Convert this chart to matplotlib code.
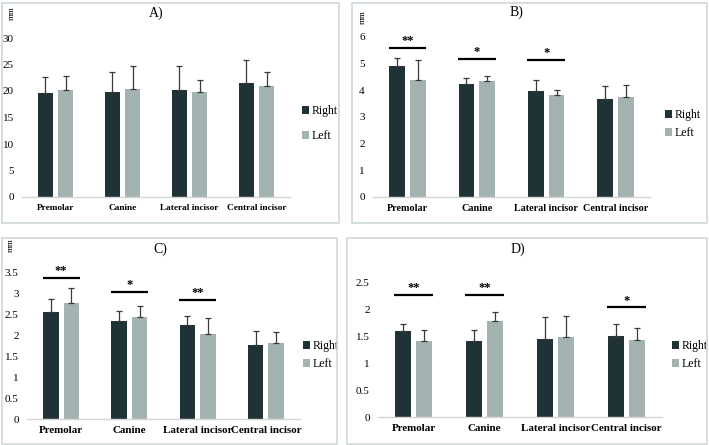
import matplotlib
matplotlib.use("Agg")
import matplotlib.pyplot as plt
from matplotlib.patches import Rectangle
import numpy as np

plt.rcParams['font.family'] = ['Liberation Serif', 'DejaVu Serif']

categories = ["Premolar", "Canine", "Lateral incisor", "Central incisor"]
series = ["Right", "Left"]

A_right = [19.7, 19.75, 20.25, 21.45]
A_right_err = [2.9, 3.75, 4.4, 4.45]
A_left = [20.25, 20.4, 19.8, 20.9]
A_left_err = [2.55, 4.4, 2.3, 2.7]

B_right = [4.9, 4.23, 3.98, 3.66]
B_right_err = [0.3, 0.22, 0.40, 0.52]
B_left = [4.39, 4.35, 3.83, 3.74]
B_left_err = [0.74, 0.20, 0.17, 0.46]

C_right = [2.55, 2.35, 2.26, 1.78]
C_right_err = [0.33, 0.24, 0.20, 0.34]
C_left = [2.78, 2.44, 2.04, 1.81]
C_left_err = [0.36, 0.26, 0.37, 0.28]

D_right = [1.60, 1.42, 1.46, 1.51]
D_right_err = [0.14, 0.195, 0.41, 0.23]
D_left = [1.41, 1.79, 1.50, 1.435]
D_left_err = [0.205, 0.16, 0.38, 0.23]

A_sig = []
B_sig = [("**", 0, 5.58), ("*", 1, 5.17), ("*", 2, 5.13)]
C_sig = [("**", 0, 3.37), ("*", 1, 3.05), ("**", 2, 2.85)]
D_sig = [("**", 0, 2.27), ("**", 1, 2.27), ("*", 3, 2.04)]

A_ticks = [0, 5, 10, 15, 20, 25, 30]
B_ticks = [0, 1, 2, 3, 4, 5, 6]
C_ticks = [0, 0.5, 1, 1.5, 2, 2.5, 3, 3.5]
D_ticks = [0, 0.5, 1, 1.5, 2, 2.5]

DARK = "#1f3336"
LIGHT = "#a3b3b1"
BORDER = "#cfd9d8"

W, H = 709, 445
fig = plt.figure(figsize=(W / 100, H / 100), dpi=100)


def fx(x):
    return x / W


def fy(y):
    return 1 - y / H


def box(x0, y0, x1, y1):
    fig.patches.append(Rectangle((fx(x0), fy(y1)), fx(x1) - fx(x0), fy(y0) - fy(y1),
                                 transform=fig.transFigure, fill=False,
                                 edgecolor=BORDER, linewidth=1.2))


def panel(ax_px, ymax, ticks, right, rerr, left, lerr, sig, title, title_xy,
          mm_xy, leg_xy, leg_space, ticklabels, catfs):
    x0, x1, ytop, ybot = ax_px
    ax = fig.add_axes([fx(x0), fy(ybot), fx(x1) - fx(x0), fy(ytop) - fy(ybot)])
    x = np.arange(len(categories))
    off, w = 0.15, 0.225
    ekw = dict(ecolor="#3a3a3a", elinewidth=0.9, capsize=2.2, capthick=0.9)
    ax.bar(x - off, right, w, color=DARK, label=series[0],
           yerr=[np.zeros(len(rerr)), rerr], error_kw=ekw)
    ax.bar(x + off, left, w, color=LIGHT, label=series[1],
           yerr=[np.zeros(len(lerr)), lerr], error_kw=ekw)
    for s, i, yv in sig:
        ax.plot([i - 0.27, i + 0.27], [yv, yv], color="black", lw=1.6,
                solid_capstyle="butt", clip_on=False)
        ax.text(i, yv + ymax * 0.005, s, ha="center", va="bottom",
                fontsize=9, fontweight="bold")
    ax.set_xlim(-0.5, len(categories) - 0.5)
    ax.set_ylim(0, ymax)
    ax.set_yticks(ticks)
    ax.set_yticklabels(ticklabels, fontsize=8)
    ax.set_xticks(x)
    ax.set_xticklabels(categories, fontsize=catfs, fontweight="bold")
    ax.tick_params(axis="both", length=0)
    ax.tick_params(axis="y", pad=6)
    ax.tick_params(axis="x", pad=5)
    for sp in ["top", "right", "left"]:
        ax.spines[sp].set_visible(False)
    ax.spines["bottom"].set_color("#d4d4d4")
    ax.spines["bottom"].set_linewidth(1.0)
    ax.patch.set_visible(False)
    fig.text(fx(title_xy[0]), fy(title_xy[1]), title, ha="center", va="center",
             fontsize=10)
    if mm_xy is not None:
        fig.text(fx(mm_xy[0]), fy(mm_xy[1]), "mm", ha="center", va="center",
                 fontsize=6.5, rotation=90)
    ax.legend(loc="center left", bbox_to_anchor=(fx(leg_xy[0]), fy(leg_xy[1])),
              bbox_transform=fig.transFigure, frameon=False, fontsize=8.5,
              handlelength=0.6, handleheight=0.6, handletextpad=0.25,
              labelspacing=leg_space, borderpad=0, borderaxespad=0)
    return ax


def fmt(ticks):
    return [("%g" % t) for t in ticks]


box(2, 3, 339, 223)
box(352, 3, 707, 223)
box(2, 238, 337, 444)
box(347, 238, 707, 444)

panel((22, 290, 38, 197), 30, A_ticks, A_right, A_right_err, A_left, A_left_err,
      A_sig, "A)", (156, 13), (12, 13), (302, 123.5), 1.1, fmt(A_ticks), 6.7)
panel((373, 650, 37, 197), 6, B_ticks, B_right, B_right_err, B_left, B_left_err,
      B_sig, "B)", (516, 12), (363, 17), (665, 124), 0.5, fmt(B_ticks), 7.3)
panel((27, 300, 272.7, 419.3), 3.5, C_ticks, C_right, C_right_err, C_left, C_left_err,
      C_sig, "C)", (160, 249), (11, 245), (303, 355), 0.5, fmt(C_ticks), 7.9)
panel((378, 662, 282.7, 417.3), 2.5, D_ticks, D_right, D_right_err, D_left, D_left_err,
      D_sig, "D)", (518, 249), None, (672, 355), 0.5, fmt(D_ticks), 7.9)

fig.savefig("out.png", dpi=100)
